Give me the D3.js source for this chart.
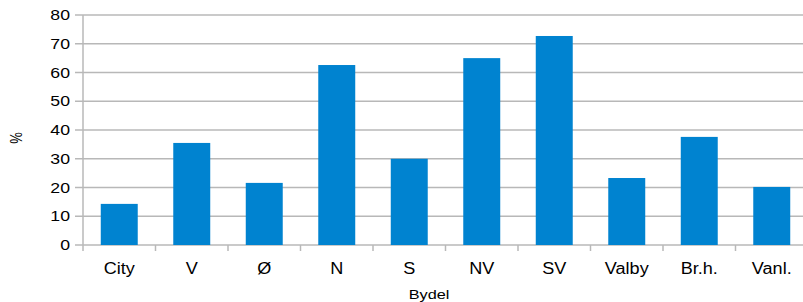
<!DOCTYPE html>
<html>
<head>
<meta charset="utf-8">
<script src="https://cdn.jsdelivr.net/npm/d3@7.9.0/dist/d3.min.js"></script>
<style>
  body { margin: 0; background: #fff; }
  svg { display: block; font-family: "Liberation Sans", Arial, sans-serif; }
</style>
</head>
<body>
<svg id="chart" width="803" height="302"></svg>
<script>
const categories = ['City', 'V', 'Ø', 'N', 'S', 'NV', 'SV', 'Valby', 'Br.h.', 'Vanl.'];
const values = [14.3, 35.5, 21.6, 62.6, 30, 65, 72.7, 23.3, 37.6, 20.2];
const yTicks = [0, 10, 20, 30, 40, 50, 60, 70, 80];

const svg = d3.select('#chart');

// plot area runs past the right edge, like the original
const plotLeft = 83, plotRight = 808, plotTop = 15, plotBottom = 245;

let x = d3.scaleBand().domain(categories).range([plotLeft, plotRight]).paddingInner(0.49).paddingOuter(0.245);
let xTicks = d3.scaleBand().domain(categories).range([plotLeft, plotRight]);
let y = d3.scaleLinear().domain([0, 80]).range([plotBottom, plotTop]);

// gridlines
svg.append('g')
  .selectAll('line')
  .data(yTicks)
  .join('line')
  .attr('x1', plotLeft - 8)
  .attr('x2', plotRight)
  .attr('y1', d => y(d))
  .attr('y2', d => y(d))
  .attr('stroke', '#b8b8b8')
  .attr('stroke-width', 1.5);

// y axis line
svg.append('line')
  .attr('x1', plotLeft).attr('x2', plotLeft)
  .attr('y1', plotTop).attr('y2', plotBottom + 6)
  .attr('stroke', '#b8b8b8')
  .attr('stroke-width', 1.5);

// x ticks at band edges
svg.append('g')
  .selectAll('line')
  .data(categories)
  .join('line')
  .attr('x1', d => xTicks(d) + xTicks.bandwidth())
  .attr('x2', d => xTicks(d) + xTicks.bandwidth())
  .attr('y1', plotBottom)
  .attr('y2', plotBottom + 6)
  .attr('stroke', '#b8b8b8')
  .attr('stroke-width', 1.5);

// bars
svg.append('g')
  .selectAll('rect')
  .data(values)
  .join('rect')
  .attr('x', (d, i) => x(categories[i]))
  .attr('width', x.bandwidth())
  .attr('y', d => y(d))
  .attr('height', d => y(0) - y(d))
  .attr('fill', '#0083d0');

// y tick labels (the original text is a bit stretched sideways)
svg.append('g')
  .selectAll('text')
  .data(yTicks)
  .join('text')
  .attr('transform', d => `translate(70,${y(d) + 5}) scale(1.22,1)`)
  .attr('text-anchor', 'end')
  .attr('font-size', 14.5)
  .attr('fill', '#000')
  .text(d => d);

// category labels
svg.append('g')
  .selectAll('text')
  .data(categories)
  .join('text')
  .attr('transform', d => `translate(${xTicks(d) + xTicks.bandwidth() / 2},274) scale(1.13,1)`)
  .attr('text-anchor', 'middle')
  .attr('font-size', 16)
  .attr('fill', '#000')
  .text(d => d);

// axis titles
svg.append('text')
  .attr('transform', 'translate(429,299) scale(1.25,1)')
  .attr('text-anchor', 'middle')
  .attr('font-size', 13)
  .text('Bydel');

svg.append('text')
  .attr('transform', 'translate(22,138) rotate(-90) scale(1,1.2)')
  .attr('text-anchor', 'middle')
  .attr('font-size', 13)
  .text('%');
</script>
</body>
</html>
